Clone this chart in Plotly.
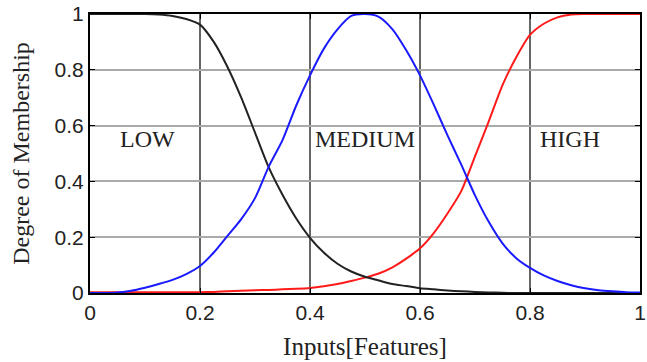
import plotly.graph_objects as go

x_vals = [0.0, 0.025, 0.05, 0.075, 0.1, 0.125, 0.15, 0.175, 0.2, 0.225,
          0.25, 0.275, 0.3, 0.325, 0.35, 0.375, 0.4, 0.425, 0.45, 0.475,
          0.5, 0.525, 0.55, 0.575, 0.6, 0.625, 0.65, 0.675, 0.7, 0.725,
          0.75, 0.775, 0.8, 0.825, 0.85, 0.875, 0.9, 0.925, 0.95, 0.975, 1.0]

low = [1.0, 1.0, 1.0, 1.0, 1.0, 0.998, 0.993, 0.982, 0.962, 0.90,
       0.81, 0.70, 0.575, 0.45, 0.352, 0.267, 0.198, 0.145, 0.105, 0.077,
       0.058, 0.045, 0.032, 0.025, 0.017, 0.013, 0.009, 0.006, 0.004, 0.002,
       0.001, 0.0, 0.0, 0.0, 0.0, 0.0, 0.0, 0.0, 0.0, 0.0, 0.0]

medium = [0.0, 0.0, 0.002, 0.008, 0.019, 0.032, 0.047, 0.068, 0.097, 0.145,
          0.205, 0.265, 0.34, 0.453, 0.548, 0.672, 0.78, 0.875, 0.945, 0.993,
          1.0, 0.99, 0.945, 0.87, 0.78, 0.675, 0.565, 0.46, 0.35, 0.255,
          0.178, 0.125, 0.09, 0.063, 0.043, 0.028, 0.017, 0.01, 0.006, 0.003, 0.002]

high = [0.003, 0.003, 0.003, 0.003, 0.003, 0.003, 0.003, 0.003, 0.003, 0.004,
        0.006, 0.008, 0.01, 0.011, 0.013, 0.015, 0.018, 0.024, 0.032, 0.043,
        0.055, 0.07, 0.092, 0.123, 0.16, 0.215, 0.285, 0.365, 0.49, 0.615,
        0.745, 0.845, 0.925, 0.965, 0.988, 0.998, 1.0, 1.0, 1.0, 1.0, 1.0]

tick_vals = [0, 0.2, 0.4, 0.6, 0.8, 1]
tick_text = ["0", "0.2", "0.4", "0.6", "0.8", "1"]

label_names = ["LOW", "MEDIUM", "HIGH"]
label_x = [0.105, 0.5, 0.872]
label_y = [0.552, 0.552, 0.552]

fig = go.Figure()
line_common = dict(width=2, shape="spline", smoothing=0.7)
fig.add_trace(go.Scatter(x=x_vals, y=high, mode="lines",
                         line=dict(color="#ff1a1a", **line_common), showlegend=False))
fig.add_trace(go.Scatter(x=x_vals, y=low, mode="lines",
                         line=dict(color="#222222", **line_common), showlegend=False))
fig.add_trace(go.Scatter(x=x_vals, y=medium, mode="lines",
                         line=dict(color="#1a1aff", **line_common), showlegend=False))

for name, lx, ly in zip(label_names, label_x, label_y):
    fig.add_annotation(x=lx, y=ly, xref="x", yref="y", text=name, showarrow=False,
                       font=dict(family="Liberation Serif", size=24, color="#222222"))

fig.update_layout(
    width=647, height=362,
    margin=dict(l=90, r=7, t=14, b=69, autoexpand=False),
    paper_bgcolor="white", plot_bgcolor="white",
    font=dict(family="Liberation Sans", size=21, color="#222222"),
)
fig.update_xaxes(range=[0, 1], tickvals=tick_vals, ticktext=tick_text,
                 ticklabeloverflow="allow", automargin=False,
                 showgrid=True, gridcolor="#666666", gridwidth=1.5,
                 showline=True, linecolor="black", linewidth=2, mirror="ticks",
                 ticks="inside", ticklen=5, tickcolor="black", zeroline=False,
                 title=dict(text="Inputs[Features]", standoff=14,
                            font=dict(family="Liberation Serif", size=25, color="#222222")))
fig.update_yaxes(range=[0, 1], tickvals=tick_vals, ticktext=tick_text,
                 automargin=False,
                 showgrid=True, gridcolor="#aaaaaa", gridwidth=2,
                 showline=True, linecolor="black", linewidth=2, mirror="ticks",
                 ticks="inside", ticklen=5, tickcolor="black", zeroline=False,
                 title=dict(text="Degree of Membership", standoff=18,
                            font=dict(family="Liberation Serif", size=24, color="#222222")))

fig.write_html("out.html")
